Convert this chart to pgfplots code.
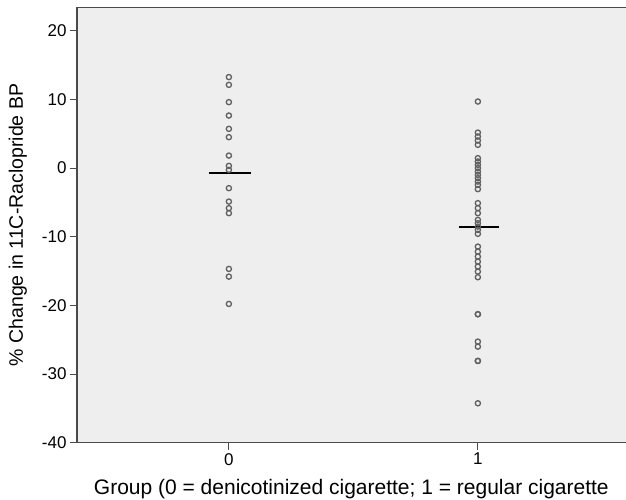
\documentclass[border=0pt]{standalone}
\usepackage{fontspec}
\setmainfont{Liberation Sans}
\usepackage{pgfplots}
\usepackage{pgfplotstable}
\pgfplotsset{compat=1.18}
\definecolor{plotbg}{HTML}{EEEEEE}
\definecolor{mk}{HTML}{606060}
\definecolor{framec}{HTML}{4A4A4A}

\pgfplotstableread{
x y
0 13.25
0 12.12
0 9.60
0 7.65
0 5.71
0 4.50
0 1.82
0 0.32
0 -0.26
0 -2.93
0 -4.88
0 -5.84
0 -6.57
0 -14.69
0 -15.81
0 -19.79
}\groupzero

\pgfplotstableread{
x y
1 9.69
1 5.17
1 4.59
1 4.01
1 3.38
1 1.44
1 0.95
1 0.47
1 -0.01
1 -0.51
1 -0.99
1 -1.47
1 -1.97
1 -2.45
1 -3.07
1 -5.11
1 -5.84
1 -6.57
1 -7.55
1 -8.03
1 -8.52
1 -9.00
1 -9.58
1 -11.44
1 -12.17
1 -12.90
1 -13.62
1 -14.35
1 -15.08
1 -15.90
1 -21.29
1 -21.29
1 -25.28
1 -26.01
1 -28.09
1 -28.09
1 -34.26
}\groupone

\begin{document}
\begin{tikzpicture}[x=1pt,y=1pt]
\clip (0,0) rectangle (626,500);
\path[fill=white] (0,0) rectangle (626,500);
\begin{axis}[
  at={(77pt,57.3pt)}, anchor=south west,
  scale only axis, width=552pt, height=435.3pt,
  xmin=-0.61, xmax=1.607, ymin=-40, ymax=23.4,
  xtick={0,1}, ytick={-40,-30,...,20},
  tick align=outside, major tick length=7pt,
  tick style={framec, line width=1pt},
  axis background/.style={fill=plotbg},
  axis line style={framec, line width=1.5pt},
  xtick pos=bottom, ytick pos=left,
  /pgf/number format/assume math mode=true,
  tick label style={font=\fontsize{17}{20}\selectfont},
  xlabel={Group (0 = denicotinized cigarette; 1 = regular cigarette},
  ylabel={\% Change in 11C-Raclopride BP},
  ylabel style={font=\fontsize{19.5}{23}\selectfont, at={(axis description cs:-0.107,0.5)}, anchor=center},
  xlabel style={font=\fontsize{21}{25}\selectfont, at={(axis description cs:0.497,-0.118)}, anchor=base},
  clip=false,
]
\addplot[only marks, mark=o, mark size=2.6pt, mark options={mk, line width=1.3pt}] table[x=x,y=y] {\groupzero};
\addplot[only marks, mark=o, mark size=2.6pt, mark options={mk, line width=1.3pt}] table[x=x,y=y] {\groupone};
\addplot[black, line width=2pt] coordinates {(-0.08,-0.74) (0.09,-0.74)};
\addplot[black, line width=2pt] coordinates {(0.925,-8.52) (1.085,-8.52)};
\end{axis}
\end{tikzpicture}
\end{document}
